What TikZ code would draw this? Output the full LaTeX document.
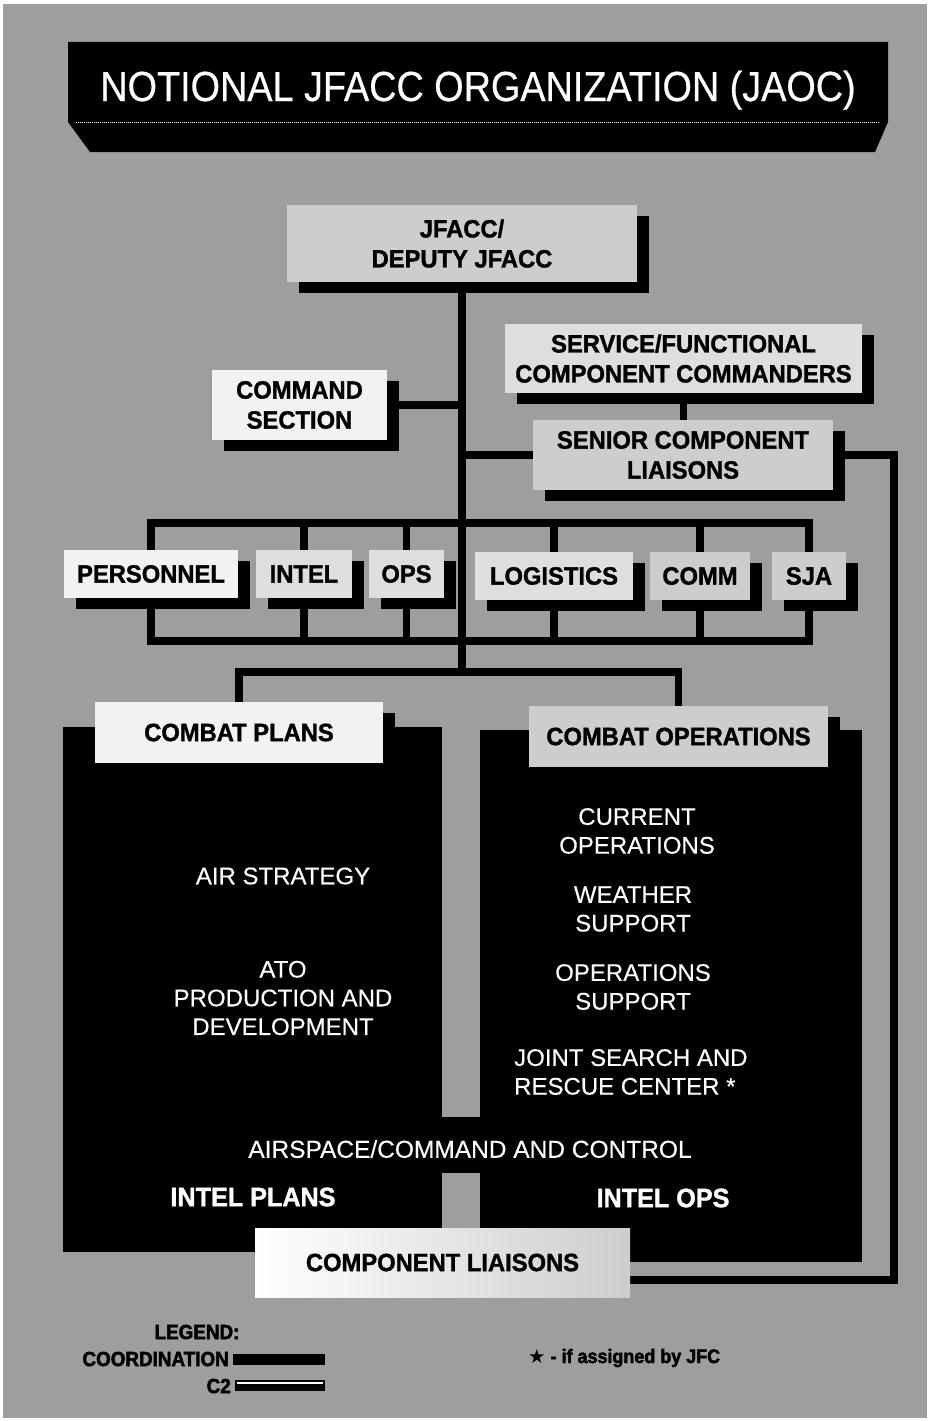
\documentclass[tikz,border=0pt]{standalone}
\usepackage{fontspec}
\setmainfont{Liberation Sans}
\newfontfamily\symfont{DejaVu Sans}
\newfontfamily\heavyfont[BoldFeatures={FakeBold=1.3, FakeStretch=0.95}]{Liberation Sans}
\newfontfamily\titlefont[FakeBold=0.5, FakeStretch=0.9]{Liberation Sans}
\newfontfamily\legendfont[BoldFeatures={FakeBold=2.2, FakeStretch=0.92}]{Liberation Sans}
\newfontfamily\panelfont[FakeBold=0.3]{Liberation Sans}
\usetikzlibrary{shadows}
\pgfdeclarelayer{bglayer}
\pgfdeclarelayer{linelayer}
\pgfsetlayers{bglayer,linelayer,main}
\definecolor{bggray}{RGB}{158,158,158}
\definecolor{boxA}{RGB}{242,242,242}
\definecolor{boxB}{RGB}{222,222,222}
\definecolor{boxC}{RGB}{205,205,205}
\tikzset{
  lbox/.style={fill=#1, inner sep=0pt, align=center, text=black,
    font=\heavyfont\bfseries\fontsize{25}{30}\selectfont},
  shad/.style={general shadow={fill=black, shadow xshift=12pt, shadow yshift=-11pt}},
  conn/.style={line width=7.5pt, black},
  wtext/.style={text=white, align=center, inner sep=0pt,
    font=\panelfont\fontsize{24}{28.7}\selectfont},
  ltext/.style={text=black, inner sep=0pt, font=\legendfont\bfseries\fontsize{20.5}{24}\selectfont},
}
\begin{document}
\begin{tikzpicture}[x=1pt,y=-1pt]
\useasboundingbox (0,0) rectangle (930,1421);
\begin{pgfonlayer}{bglayer}
  \fill[white] (0,0) rectangle (930,1421);
  \fill[bggray] (3,4) rectangle (927,1418);
\end{pgfonlayer}

% title banner
\fill[black] (68,42) -- (888,42) -- (888,122) -- (875,152) -- (90,152) -- (68,122) -- cycle;
\draw[white, densely dotted, line width=1pt] (76,122) -- (880,122);
\node[text=white, inner sep=0pt, anchor=base, font=\titlefont\fontsize{42}{48}\selectfont] (title) at (478,101)
  {NOTIONAL JFACC ORGANIZATION (JAOC)};

% top boxes
\node[lbox=boxC, shad, minimum width=350pt, minimum height=77pt] (jfacc) at (462,243.5) {JFACC/\\DEPUTY JFACC};
\node[lbox=boxA, shad, minimum width=175pt, minimum height=70pt] (cmdsec) at (299.5,405) {COMMAND\\SECTION};
\node[lbox=boxB, shad, minimum width=357pt, minimum height=69pt] (sfcc) at (683.5,358.5) {SERVICE/FUNCTIONAL\\COMPONENT COMMANDERS};
\node[lbox=boxC, shad, minimum width=300pt, minimum height=70pt] (scl) at (683,455) {SENIOR COMPONENT\\LIAISONS};

% staff boxes
\node[lbox=boxA, shad, minimum width=174pt, minimum height=48pt] (personnel) at (151,574) {PERSONNEL};
\node[lbox=boxB, shad, minimum width=96pt, minimum height=48pt] (intel) at (304,574) {INTEL};
\node[lbox=boxB, shad, minimum width=75pt, minimum height=48pt] (ops) at (406.5,574) {OPS};
\node[lbox=boxB, shad, minimum width=158pt, minimum height=48pt] (logistics) at (554,576) {LOGISTICS};
\node[lbox=boxC, shad, minimum width=100pt, minimum height=48pt] (comm) at (700,576) {COMM};
\node[lbox=boxC, shad, minimum width=74pt, minimum height=48pt] (sja) at (809,576) {SJA};

% black panels
\fill[black] (63,727) rectangle (442,1252);
\fill[black] (480,730) rectangle (862,1262);
\fill[black] (440,1117) rectangle (482,1173);

% panel labels
\node[lbox=boxA, shad, minimum width=288pt, minimum height=61pt] (plansLbl) at (239,732.5) {COMBAT PLANS};
\node[lbox=boxC, shad, minimum width=299pt, minimum height=61pt] (opsLbl) at (678.5,736.5) {COMBAT OPERATIONS};
\node[inner sep=0pt, minimum width=375pt, minimum height=69pt, left color=white, right color=boxC,
  text=black, font=\heavyfont\bfseries\fontsize{25}{30}\selectfont] (cl) at (442.5,1262.5) {COMPONENT LIAISONS};

% panel texts
\node[wtext] (airstrat) at (283,876) {AIR STRATEGY};
\node[wtext] (ato) at (283,998) {ATO\\PRODUCTION AND\\DEVELOPMENT};
\node[wtext] (curops) at (637,831) {CURRENT\\OPERATIONS};
\node[wtext] (weather) at (633,909) {WEATHER\\SUPPORT};
\node[wtext] (opssup) at (633,987) {OPERATIONS\\SUPPORT};
\node[wtext, align=left, anchor=west] (jsrc) at (514,1072) {JOINT SEARCH AND\\RESCUE CENTER *};
\node[wtext, font=\panelfont\fontsize{24.5}{29}\selectfont] (airspace) at (470,1149) {AIRSPACE/COMMAND AND CONTROL};
\node[wtext, font=\heavyfont\bfseries\fontsize{26.5}{30}\selectfont] (intelplans) at (253,1197) {INTEL PLANS};
\node[wtext, font=\heavyfont\bfseries\fontsize{26.5}{30}\selectfont] (intelops) at (663,1198) {INTEL OPS};

% connectors
\coordinate (j1) at (462,672);
\coordinate (bTL) at (151,523);
\coordinate (bBR) at (809,641);
\coordinate (lp) at (894,1280);
\begin{pgfonlayer}{linelayer}
  \draw[conn] (jfacc.south) -- (j1);
  \draw[conn] (cmdsec.east) -- (cmdsec.east -| j1);
  \draw[conn] (scl.west) -- (scl.west -| j1);
  \draw[conn] (sfcc.south) -- (sfcc.south |- scl.north);
  \draw[conn] (scl.east) -| (lp) -- (lp -| cl.east);
  \draw[conn] (bTL) rectangle (bBR);
  \draw[conn] (intel |- bTL) -- (intel |- bBR);
  \draw[conn] (ops |- bTL) -- (ops |- bBR);
  \draw[conn] (logistics |- bTL) -- (logistics |- bBR);
  \draw[conn] (comm |- bTL) -- (comm |- bBR);
  \draw[conn] (plansLbl.north) |- (j1) -| (opsLbl.north);
\end{pgfonlayer}

% legend
\node[ltext] (legend) at (197,1332) {LEGEND:};
\node[ltext, anchor=east] (coord) at (229,1359) {COORDINATION};
\node[ltext, anchor=east] (ctwo) at (231,1386) {C2};
\fill[black] (233,1354) rectangle (325,1365);
\fill[black] (235,1380) rectangle (325,1391);
\draw[white, line width=1.5pt] (237,1383) -- (323,1383);
\node[ltext, anchor=west, font=\legendfont\bfseries\fontsize{19.5}{22}\selectfont] (note) at (528,1358)
  {{\symfont ★} - if assigned by JFC};
\end{tikzpicture}
\end{document}
